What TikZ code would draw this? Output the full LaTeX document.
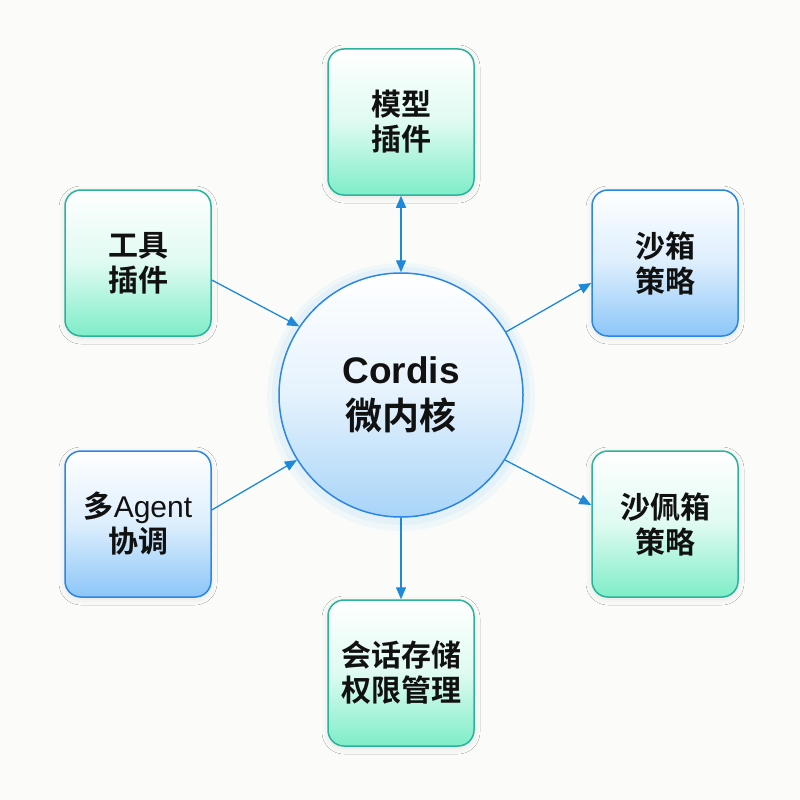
\documentclass[tikz,border=0pt]{standalone}
\usepackage{fontspec}
\newfontfamily\cjk{Noto Sans CJK SC}[UprightFont=* Bold]
\newfontfamily\latin{Liberation Sans}
\usetikzlibrary{arrows.meta,shadows.blur}
\definecolor{greenline}{HTML}{2BB39B}
\definecolor{greenfill}{HTML}{7EEDC8}
\definecolor{blueline}{HTML}{2B86E6}
\definecolor{bluefill}{HTML}{8CC6F8}
\definecolor{linkblue}{HTML}{1E88DA}
\definecolor{corefill}{HTML}{A8D4F8}
\definecolor{paper}{HTML}{FBFCF9}
\definecolor{ink}{HTML}{111111}
\newcommand{\boxfont}{\cjk\fontsize{30}{35}\selectfont}
\newcommand{\corefont}{\cjk\fontsize{37}{46}\selectfont}

\begin{document}
\begin{tikzpicture}[x=1pt,y=-1pt,
	box/.style={rounded corners=16pt, minimum width=146pt, minimum height=146pt,
		line width=1.5pt, align=center, text=ink, font=\boxfont,
		blur shadow={shadow xshift=0pt, shadow yshift=-2pt, shadow opacity=10, shadow blur radius=6pt}},
	greenbox/.style={box, draw=greenline, top color=white, bottom color=greenfill, middle color=greenfill!25},
	bluebox/.style={box, draw=blueline, top color=white, bottom color=bluefill, middle color=bluefill!30},
	link/.style={draw=linkblue, line width=1.3pt, -{Triangle[length=12pt,width=10pt]}}]
	\fill[paper] (0,0) rectangle (800,800);
	\useasboundingbox (0,0) rectangle (800,800);

	\fill[corefill, opacity=0.12] (401,397) circle (134);
	\fill[corefill, opacity=0.15] (401,396) circle (129);
	\node[circle, minimum size=244pt, draw=blueline, line width=1.5pt, top color=white, bottom color=corefill,
		middle color=corefill!30, text=ink, font=\corefont, align=center]
		(core) at (401,395) {{\latin\bfseries Cordis}\\微内核};

	\node[greenbox] (model) at (401,122) {模型\\插件};
	\node[greenbox] (tool) at (138,263) {工具\\插件};
	\node[bluebox] (sandbox) at (665,263) {沙箱\\策略};
	\node[bluebox] (agent) at (138,524) {多{\latin Agent}\\协调};
	\node[greenbox] (valve) at (665,524) {沙佩箱\\策略};
	\node[greenbox] (session) at (401,673) {会话存储\\权限管理};

	\draw[link, {Triangle[length=12pt,width=10pt]}-{Triangle[length=12pt,width=10pt]}] (model.south) -- (core.north);
	\draw[link] ([yshift=-17pt]tool.east) -- (core.146);
	\draw[link] ([yshift=14pt]agent.east) -- (core.212);
	\draw[link] (core.31) -- ([yshift=-20pt]sandbox.west);
	\draw[link] (core.328) -- ([yshift=19pt]valve.west);
	\draw[link] (core.south) -- (session.north);
\end{tikzpicture}
\end{document}
